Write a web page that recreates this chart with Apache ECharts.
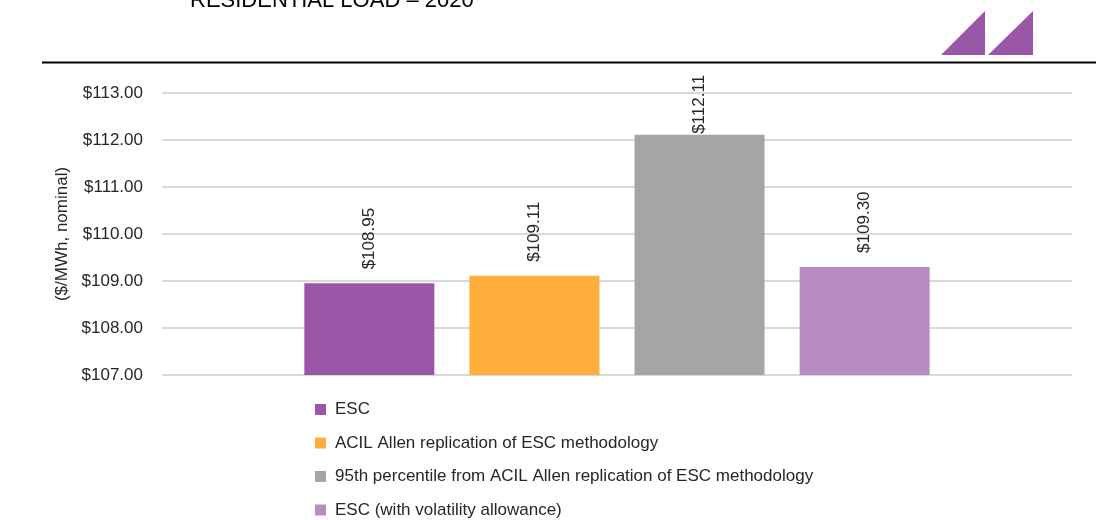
<!DOCTYPE html>
<html>
<head>
<meta charset="utf-8">
<script src="https://cdn.jsdelivr.net/npm/echarts@6/dist/echarts.min.js"></script>
<style>
  html, body { margin: 0; padding: 0; background: #fff; }
  #chart { width: 1096px; height: 520px; }
</style>
</head>
<body>
<div id="chart"></div>
<script>
// Wholesale energy cost estimates, residential load, 2020 ($/MWh, nominal)
const categories = ['2020'];
const seriesNames = [
  'ESC',
  'ACIL Allen replication of ESC methodology',
  '95th percentile from ACIL Allen replication of ESC methodology',
  'ESC (with volatility allowance)'
];
const seriesValues = [108.95, 109.11, 112.11, 109.30];
const seriesColors = ['#9B57A7', '#FFAD3B', '#A5A5A5', '#B98BC3'];
const yTicks = { min: 107, max: 113, step: 1 };

const FONT = '"Liberation Sans", Arial, sans-serif';
const chart = echarts.init(document.getElementById('chart'), null, { renderer: 'canvas' });

const series = seriesNames.map((name, i) => ({
  name: name,
  type: 'bar',
  data: [seriesValues[i]],
  barWidth: 130,
  barGap: '27%',
  itemStyle: { color: seriesColors[i] },
  label: {
    show: true,
    position: 'top',
    rotate: 90,
    align: 'left',
    verticalAlign: 'middle',
    // the tallest label is kept inside the plot area
    distance: seriesValues[i] > 112 ? 1 : 14,
    fontFamily: FONT,
    fontSize: 17,
    color: '#262626',
    formatter: p => '$' + p.value.toFixed(2)
  }
}));

chart.setOption({
  animation: false,
  textStyle: { fontFamily: FONT },
  grid: { left: 162, right: 24, top: 93, bottom: 145, containLabel: false },
  xAxis: {
    type: 'category',
    data: categories,
    axisLine: { show: false },
    axisTick: { show: false },
    axisLabel: { show: false }
  },
  yAxis: {
    type: 'value',
    min: yTicks.min,
    max: yTicks.max,
    interval: yTicks.step,
    name: '($/MWh, nominal)',
    nameLocation: 'middle',
    nameGap: 90,
    nameRotate: 90,
    nameTextStyle: { fontFamily: FONT, fontSize: 17, color: '#262626' },
    axisLine: { show: false },
    axisTick: { show: false },
    axisLabel: {
      fontFamily: FONT, fontSize: 17, color: '#262626', margin: 19,
      formatter: v => '$' + v.toFixed(2)
    },
    splitLine: { lineStyle: { color: '#D9D9D9', width: 2 } }
  },
  legend: {
    orient: 'vertical',
    left: 315,
    top: 401,
    height: 119,
    padding: 0,
    itemWidth: 11,
    itemHeight: 11,
    itemGap: 16.5,
    icon: 'rect',
    textStyle: { fontFamily: FONT, fontSize: 17, color: '#262626', padding: [0, 0, 0, 4] },
    data: seriesNames
  },
  series: series,
  graphic: [
    {
      type: 'text',
      left: 190,
      top: -10,
      style: { text: 'RESIDENTIAL LOAD – 2020', font: '22px ' + FONT, fill: '#000' }
    },
    {
      type: 'line',
      shape: { x1: 42, y1: 62.5, x2: 1096, y2: 62.5 },
      style: { stroke: '#000', lineWidth: 2 }
    },
    {
      type: 'polygon',
      shape: { points: [[941, 55], [985, 55], [985, 11]] },
      style: { fill: '#9B57A7' }
    },
    {
      type: 'polygon',
      shape: { points: [[988, 55], [1033, 55], [1033, 11]] },
      style: { fill: '#9B57A7' }
    }
  ]
});
</script>
</body>
</html>
